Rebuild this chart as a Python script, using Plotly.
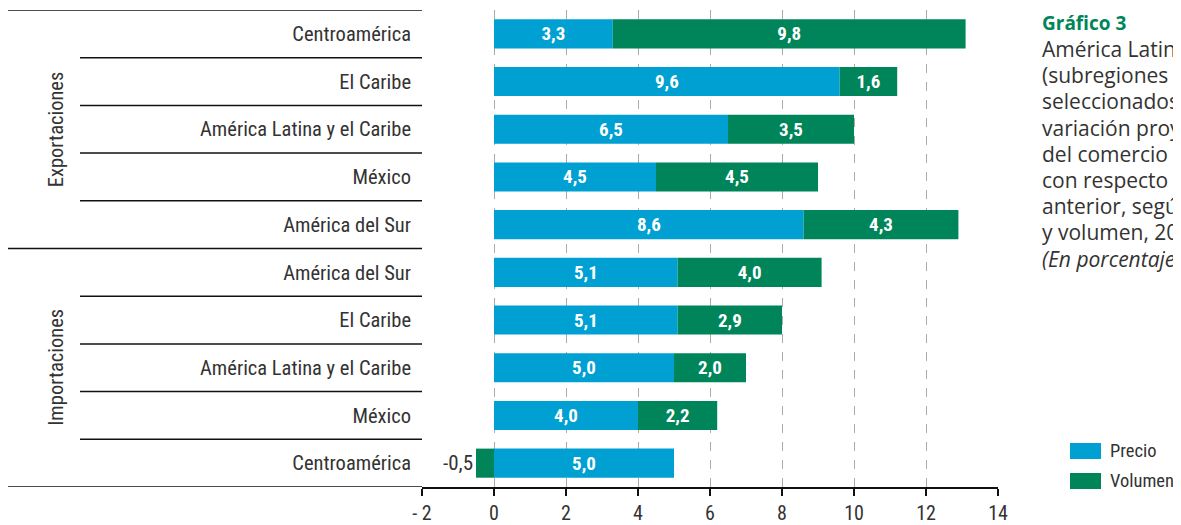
'''
    Stacked horizontal bar chart: projected trade variation by price and
    volume for Latin America and the Caribbean subregions.
'''
import plotly.graph_objects as go

# Rows, top to bottom
REGIONS = [
    'Centroamérica', 'El Caribe', 'América Latina y el Caribe', 'México', 'América del Sur',
    'América del Sur', 'El Caribe', 'América Latina y el Caribe', 'México', 'Centroamérica',
]
GROUPS = ['Exportaciones', 'Importaciones']
PRECIO = [3.3, 9.6, 6.5, 4.5, 8.6, 5.1, 5.1, 5.0, 4.0, 5.0]
VOLUMEN = [9.8, 1.6, 3.5, 4.5, 4.3, 4.0, 2.9, 2.0, 2.2, -0.5]
X_TICKS = [-2, 0, 2, 4, 6, 8, 10, 12, 14]
X_TICK_TEXT = ['- 2', '0', '2', '4', '6', '8', '10', '12', '14']
TITLE = 'Gráfico 3'
SUBTITLE = [
    'América Latina y el Caribe', '(subregiones y países', 'seleccionados):',
    'variación proyectada', 'del comercio de bienes', 'con respecto al año',
    'anterior, según precio', 'y volumen, 2022', '<i>(En porcentajes)</i>',
]

BLUE = '#00A0D2'
GREEN = '#00855A'
TEXT = '#333333'
COND = 'Roboto Condensed, Liberation Sans Narrow, DejaVu Sans Condensed, Roboto, sans-serif'
TITLE_FONT = 'Open Sans, Lato, sans-serif'

# the page body adds an 8px offset; positions below are page pixels
OFF = 8
W, H = 1181, 525
L, R, T, B = 422 - OFF, W - (998 - OFF), 10 - OFF, H - (487 - OFF)
PW, PH = W - L - R, H - T - B


def px_x(p):
    return (p - OFF - L) / PW


def px_y(p):
    return (H - B - (p - OFF)) / PH


def fmt(v):
    return f'{v:.1f}'.replace('.', ',')


rows = list(range(len(REGIONS)))

fig = go.Figure()
fig.add_trace(go.Bar(
    name='Precio', y=rows, x=PRECIO, orientation='h',
    marker=dict(color=BLUE, line=dict(width=0)), width=0.61,
    text=[f'<b>{fmt(v)}</b>' for v in PRECIO],
    textposition='inside', insidetextanchor='middle', textangle=0,
    constraintext='none',
    textfont=dict(family=COND, size=19, color='white'),
))
fig.add_trace(go.Bar(
    name='Volumen', y=rows, x=VOLUMEN, orientation='h',
    marker=dict(color=GREEN, line=dict(width=0)), width=0.61,
    text=[f'<b>{fmt(v)}</b>' if v > 0 else fmt(v) for v in VOLUMEN],
    textposition=['inside' if v > 0 else 'outside' for v in VOLUMEN],
    insidetextanchor='middle', textangle=0, constraintext='none',
    textfont=dict(family=COND,
                  size=[19 if v > 0 else 21 for v in VOLUMEN],
                  color=['white' if v > 0 else TEXT for v in VOLUMEN]),
))

fig.update_layout(
    width=W, height=H,
    margin=dict(l=L, r=R, t=T, b=B),
    barmode='relative',
    showlegend=False,
    plot_bgcolor='white', paper_bgcolor='white',
    font=dict(family=COND, size=20, color=TEXT),
    xaxis=dict(
        range=[-2, 14], tickvals=X_TICKS, ticktext=X_TICK_TEXT,
        showgrid=True, griddash='dash', gridcolor='#aaaaaa', gridwidth=1,
        zeroline=False, showline=True, linecolor='#111111', linewidth=1.5,
        ticks='outside', ticklen=7, tickcolor='#111111', tickwidth=1.5,
        tickfont=dict(family=COND, size=20, color=TEXT),
    ),
    yaxis=dict(
        range=[9.5, -0.5], tickvals=rows, ticktext=REGIONS,
        showgrid=False, zeroline=False, showline=False, ticks='',
        ticklabelstandoff=10,
        tickfont=dict(family=COND, size=20.5, color=TEXT),
    ),
    yaxis2=dict(
        overlaying='y', anchor='free', side='left', position=px_x(494),
        range=[9.5, -0.5], tickvals=[r - 0.5 for r in rows] + [9.5],
        showticklabels=False, showgrid=False, zeroline=False,
        showline=True, linecolor='#111111', linewidth=1.5,
        ticks='outside', ticklen=7, tickcolor='#111111', tickwidth=1.5,
    ),
)

# row separators on the label side
for r in rows[:-1]:
    edge = r + 0.5
    x0 = px_x(8) if edge == 4.5 else px_x(80)
    fig.add_shape(type='line', xref='paper', yref='y', x0=x0, x1=0,
                  y0=edge, y1=edge, line=dict(color='#111111', width=1.5))
for edge in [-0.5, 9.5]:
    fig.add_shape(type='line', xref='paper', yref='y', x0=px_x(8), x1=0,
                  y0=edge, y1=edge, line=dict(color='#111111', width=1.5))

# group labels
for i, g in enumerate(GROUPS):
    fig.add_annotation(text=g, xref='paper', yref='y', x=px_x(42), y=2 + 5 * i,
                       textangle=-90, showarrow=False,
                       font=dict(family=COND, size=20.5, color=TEXT))

# legend
for i, (name, color) in enumerate([('Precio', BLUE), ('Volumen', GREEN)]):
    top = 443 + 30 * i
    fig.add_shape(type='rect', xref='paper', yref='paper',
                  x0=px_x(1070), x1=px_x(1101), y0=px_y(top + 16), y1=px_y(top),
                  fillcolor=color, line=dict(width=0))
    fig.add_annotation(text=name, xref='paper', yref='paper',
                       x=px_x(1108), y=px_y(top + 8), xanchor='left', yanchor='middle',
                       showarrow=False, font=dict(family=COND, size=18.5, color=TEXT))

# title block
fig.add_annotation(text=f'<b>{TITLE}</b>', xref='paper', yref='paper',
                   x=px_x(1040), y=px_y(23), xanchor='left', yanchor='middle',
                   showarrow=False, font=dict(family=TITLE_FONT, size=19, color=GREEN))
for i, line in enumerate(SUBTITLE):
    fig.add_annotation(text=line, xref='paper', yref='paper',
                       x=px_x(1040), y=px_y(49 + 26.2 * i), xanchor='left', yanchor='middle',
                       showarrow=False, font=dict(family=TITLE_FONT, size=21, color=TEXT))

fig.write_html('out.html')
